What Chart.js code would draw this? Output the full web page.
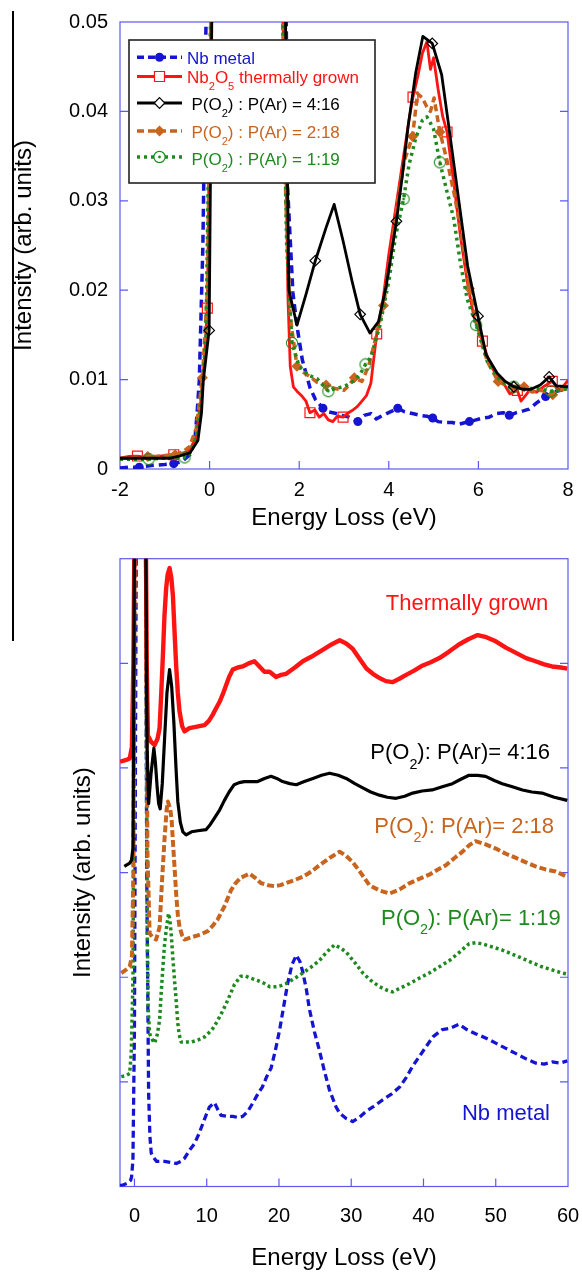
<!DOCTYPE html>
<html><head><meta charset="utf-8">
<script src="https://cdn.jsdelivr.net/npm/chart.js@4.4.1/dist/chart.umd.min.js"></script>
<style>
html,body{margin:0;padding:0;background:#fff;}
#wrap{position:relative;width:582px;height:1273px;overflow:hidden;background:#fff;}
#c1box{position:absolute;left:0;top:0;width:582px;height:540px;}
#c2box{position:absolute;left:0;top:540px;width:582px;height:733px;}
#vline{position:absolute;left:12px;top:11px;width:1.5px;height:630px;background:#000;}
</style></head><body>
<div id="wrap"><div id="c1box"><canvas id="c1"></canvas></div><div id="c2box"><canvas id="c2"></canvas></div><div id="vline"></div></div>
<script>
// ---------- DATA ----------
// Top panel: [energy loss eV, intensity]
const topBlue = [[-2,0.0001],[-1.8,0.0002],[-1.57,0.0002],[-1.3,0.0004],[-1.0,0.0005],[-0.8,0.0006],[-0.63,0.0008],[-0.44,0.0016],[-0.33,0.0032],[-0.28,0.0062],[-0.23,0.0099],[-0.15,0.025],[-0.08,0.05],[0.0,0.07],[1.68,0.07],[1.74,0.0316],[1.86,0.0197],[1.95,0.016],[2.07,0.0122],[2.24,0.0091],[2.36,0.0078],[2.53,0.0068],[2.65,0.0064],[2.83,0.0062],[2.95,0.006],[3.12,0.0058],[3.2,0.0056],[3.31,0.0053],[3.45,0.006],[3.6,0.0062],[3.72,0.0056],[3.79,0.0058],[3.95,0.0062],[4.08,0.0065],[4.2,0.0068],[4.35,0.0064],[4.53,0.0062],[4.7,0.006],[4.85,0.0059],[4.98,0.0057],[5.1,0.0053],[5.26,0.0052],[5.42,0.0052],[5.55,0.005],[5.8,0.0053],[5.95,0.0055],[6.09,0.0057],[6.24,0.0058],[6.4,0.0062],[6.55,0.0063],[6.69,0.006],[6.85,0.0063],[7.0,0.0065],[7.13,0.0067],[7.3,0.0074],[7.5,0.0081],[7.74,0.0087],[8.0,0.009]];
const topRed = [[-2,0.0012],[-1.8,0.0014],[-1.61,0.00145],[-1.4,0.0013],[-1.2,0.0014],[-1.0,0.0015],[-0.8,0.0016],[-0.6,0.0017],[-0.45,0.0021],[-0.3,0.0035],[-0.2,0.0075],[-0.12,0.012],[-0.05,0.018],[0.05,0.06],[1.6,0.06],[1.71,0.032],[1.75,0.019],[1.8,0.0115],[1.87,0.0092],[1.95,0.0087],[2.07,0.0081],[2.15,0.0076],[2.24,0.0063],[2.35,0.0066],[2.45,0.0058],[2.55,0.0062],[2.65,0.0055],[2.75,0.0053],[2.85,0.0059],[2.98,0.0058],[3.1,0.0063],[3.2,0.0066],[3.3,0.007],[3.4,0.0076],[3.5,0.0082],[3.6,0.0096],[3.73,0.0151],[3.86,0.0185],[4.0,0.024],[4.15,0.029],[4.3,0.034],[4.45,0.039],[4.54,0.0416],[4.65,0.044],[4.75,0.0465],[4.85,0.0478],[4.93,0.0447],[5.0,0.046],[5.1,0.0425],[5.2,0.0395],[5.3,0.0377],[5.45,0.032],[5.6,0.026],[5.75,0.021],[5.9,0.017],[6.09,0.0143],[6.25,0.0118],[6.4,0.0105],[6.55,0.0097],[6.7,0.0084],[6.87,0.0088],[6.95,0.0076],[7.05,0.0082],[7.15,0.0089],[7.3,0.0086],[7.45,0.0092],[7.65,0.0098],[7.8,0.0088],[7.9,0.0093],[8.0,0.0099]];
const topBlack = [[-2,0.0012],[-1.6,0.0012],[-1.2,0.0012],[-0.9,0.0012],[-0.7,0.0014],[-0.44,0.0018],[-0.26,0.0032],[-0.18,0.0063],[-0.14,0.0099],[-0.01,0.0155],[0.1,0.08],[1.62,0.08],[1.77,0.02],[1.95,0.0161],[2.15,0.0195],[2.36,0.0233],[2.6,0.027],[2.78,0.0296],[2.98,0.0255],[3.18,0.021],[3.36,0.0173],[3.58,0.0152],[3.77,0.0165],[3.94,0.0204],[4.17,0.0277],[4.3,0.0327],[4.43,0.0383],[4.6,0.0443],[4.76,0.0484],[4.97,0.0476],[5.18,0.0441],[5.34,0.0383],[5.55,0.0305],[5.76,0.0227],[5.99,0.0171],[6.17,0.0128],[6.42,0.0107],[6.6,0.0098],[6.79,0.0092],[7.0,0.0089],[7.16,0.0089],[7.38,0.0094],[7.58,0.0103],[7.74,0.0093],[8.0,0.0092]];
const topOrange = [[-2,0.0012],[-1.8,0.0012],[-1.6,0.0013],[-1.38,0.0014],[-1.2,0.0014],[-1.0,0.0015],[-0.77,0.0016],[-0.6,0.0019],[-0.45,0.0025],[-0.3,0.0045],[-0.16,0.0102],[-0.05,0.02],[0.05,0.06],[1.6,0.06],[1.7,0.03],[1.8,0.017],[1.95,0.0115],[2.1,0.0108],[2.25,0.0103],[2.4,0.0097],[2.6,0.0094],[2.8,0.009],[3.0,0.0088],[3.1,0.0093],[3.23,0.0102],[3.4,0.0098],[3.55,0.0115],[3.7,0.0145],[3.88,0.0183],[4.05,0.024],[4.2,0.03],[4.35,0.0345],[4.53,0.0372],[4.64,0.042],[4.75,0.0415],[4.85,0.0405],[4.93,0.04],[5.01,0.0415],[5.14,0.0377],[5.3,0.0345],[5.45,0.031],[5.6,0.027],[5.8,0.0202],[6.0,0.0155],[6.2,0.012],[6.44,0.0098],[6.6,0.0094],[6.8,0.009],[7.02,0.0092],[7.2,0.0086],[7.4,0.0088],[7.66,0.0083],[7.8,0.0088],[8.0,0.009]];
const topGreen = [[-2,0.0011],[-1.8,0.0011],[-1.6,0.0011],[-1.36,0.0011],[-1.1,0.0012],[-0.8,0.0013],[-0.56,0.0013],[-0.45,0.0017],[-0.3,0.0035],[-0.18,0.008],[-0.08,0.015],[0.05,0.06],[1.6,0.06],[1.72,0.025],[1.84,0.0141],[2.0,0.0115],[2.2,0.0105],[2.4,0.0101],[2.65,0.0087],[2.8,0.009],[3.0,0.0092],[3.2,0.0098],[3.35,0.0105],[3.48,0.0117],[3.6,0.0125],[3.8,0.016],[4.0,0.021],[4.15,0.026],[4.33,0.0302],[4.45,0.034],[4.6,0.037],[4.75,0.039],[4.85,0.0394],[4.93,0.0387],[5.0,0.038],[5.14,0.0343],[5.3,0.031],[5.45,0.028],[5.6,0.023],[5.75,0.019],[5.95,0.0161],[6.2,0.012],[6.5,0.0098],[6.79,0.0092],[7.0,0.009],[7.3,0.009],[7.62,0.0087],[7.8,0.0088],[8.0,0.009]];
// x positions carrying a symbol
const markBlue = [-1.57,-0.8,2.53,3.31,4.2,4.98,5.8,6.69,7.5];
const markRed = [-1.61,-0.8,-0.05,2.24,2.98,3.73,4.54,5.3,6.09,6.87,7.65];
const markBlack = [-0.01,2.36,3.36,4.17,4.97,5.99,6.79,7.58];
const markOrange = [-1.38,-0.77,-0.16,1.95,2.6,3.23,3.88,4.53,5.14,5.8,6.44,7.02,7.66];
const markGreen = [-1.36,-0.56,1.84,2.65,3.48,4.33,5.14,5.95,6.79,7.62];

// Bottom panel (offset spectra): [energy loss eV, intensity]
const botRed = [[-2,4.06],[-1.0,4.08],[-0.66,4.09],[-0.35,4.2],[-0.15,5.0],[0.1,7],[1.5,7],[1.7,5.0],[1.86,4.31],[2.3,4.25],[2.79,4.22],[3.2,4.28],[3.48,4.38],[3.7,4.7],[3.94,5.08],[4.15,5.45],[4.39,5.72],[4.6,5.85],[4.86,5.91],[5.1,5.82],[5.32,5.65],[5.55,5.3],[5.77,4.98],[6.0,4.72],[6.24,4.54],[6.6,4.4],[6.93,4.35],[7.6,4.38],[8.31,4.39],[9.0,4.4],[9.7,4.41],[10.3,4.45],[10.84,4.51],[11.3,4.57],[11.77,4.63],[12.2,4.7],[12.68,4.79],[13.1,4.87],[13.6,4.94],[14.3,4.96],[14.98,4.97],[15.8,5.0],[16.6,5.02],[17.3,4.97],[17.98,4.92],[18.7,4.92],[19.6,4.87],[20.3,4.89],[21.0,4.9],[22.2,4.96],[23.3,5.02],[24.4,5.06],[25.6,5.11],[27.0,5.17],[28.4,5.22],[29.3,5.19],[30.2,5.14],[31.2,5.04],[32.1,4.95],[33.0,4.9],[33.9,4.86],[34.8,4.83],[35.7,4.82],[36.6,4.85],[37.6,4.89],[38.7,4.93],[39.9,4.98],[41.0,5.01],[42.2,5.05],[43.5,5.11],[44.9,5.18],[46.2,5.23],[47.5,5.27],[48.7,5.25],[50.0,5.21],[51.4,5.15],[52.8,5.1],[54.2,5.05],[55.5,5.02],[56.7,4.99],[57.8,4.97],[59.0,4.96],[59.9,4.95]];
const botBlack = [[-1.4,3.06],[-0.66,3.09],[-0.4,3.12],[-0.2,3.24],[0.05,7],[1.5,7],[1.75,4.2],[1.96,3.66],[2.3,3.95],[2.69,4.19],[2.9,4.05],[3.15,3.81],[3.35,3.66],[3.56,3.61],[3.85,3.85],[4.17,4.28],[4.5,4.72],[4.86,4.94],[5.15,4.78],[5.45,4.44],[5.75,4.0],[6.0,3.68],[6.35,3.48],[6.7,3.39],[7.15,3.36],[7.9,3.39],[8.77,3.4],[9.9,3.41],[10.5,3.46],[11.07,3.52],[11.8,3.6],[12.45,3.69],[13.1,3.77],[13.8,3.84],[14.5,3.86],[15.2,3.87],[16.1,3.87],[17.05,3.87],[18.0,3.9],[18.9,3.92],[19.7,3.9],[20.5,3.87],[21.5,3.85],[22.4,3.84],[23.5,3.87],[24.7,3.9],[25.9,3.93],[27.0,3.95],[28.2,3.93],[29.3,3.9],[30.5,3.85],[31.6,3.81],[32.7,3.77],[33.9,3.74],[35.0,3.72],[36.2,3.71],[37.4,3.73],[38.5,3.76],[39.8,3.78],[41.2,3.79],[42.6,3.82],[44.0,3.85],[45.1,3.89],[46.3,3.93],[47.5,3.93],[48.6,3.92],[49.8,3.88],[50.9,3.85],[52.3,3.82],[53.7,3.79],[55.0,3.77],[56.4,3.76],[58.1,3.72],[59.9,3.69]];
const botOrange = [[-1.82,2.04],[-1.2,2.07],[-0.66,2.1],[-0.35,2.2],[-0.15,3.0],[0.1,7],[1.5,7],[1.8,3.2],[2.1,2.42],[2.5,2.38],[3.0,2.36],[3.48,2.48],[3.8,2.9],[4.17,3.33],[4.45,3.6],[4.63,3.68],[4.8,3.64],[4.95,3.61],[5.15,3.5],[5.32,3.3],[5.55,3.05],[5.77,2.8],[6.0,2.6],[6.24,2.48],[6.6,2.4],[6.93,2.36],[7.8,2.38],[8.77,2.4],[9.5,2.42],[10.15,2.44],[10.8,2.49],[11.5,2.55],[12.4,2.67],[13.35,2.83],[14.0,2.9],[14.7,2.95],[15.3,2.97],[15.9,2.99],[16.7,2.95],[17.5,2.9],[18.5,2.88],[19.4,2.87],[20.2,2.88],[21.0,2.9],[22.2,2.93],[23.3,2.96],[24.5,3.01],[25.6,3.07],[27.0,3.14],[28.4,3.2],[29.3,3.16],[30.2,3.1],[31.3,3.0],[32.5,2.88],[33.9,2.83],[35.3,2.8],[36.7,2.84],[38.1,2.9],[39.4,2.94],[40.8,2.98],[42.0,3.03],[43.1,3.07],[44.3,3.14],[45.4,3.2],[46.3,3.26],[47.2,3.3],[48.6,3.27],[50.0,3.23],[51.4,3.18],[52.8,3.14],[54.1,3.1],[55.5,3.06],[56.9,3.03],[58.3,3.01],[59.9,2.96]];
const botGreen = [[-1.82,1.05],[-1.2,1.06],[-0.66,1.08],[-0.44,1.28],[-0.2,2.0],[0.1,7],[1.5,7],[1.75,2.6],[1.9,1.7],[2.1,1.46],[2.5,1.4],[2.79,1.37],[3.15,1.45],[3.48,1.59],[3.7,1.85],[3.94,2.1],[4.15,2.3],[4.39,2.45],[4.72,2.61],[4.9,2.55],[5.08,2.42],[5.3,2.2],[5.55,1.97],[5.8,1.75],[6.0,1.56],[6.2,1.45],[6.47,1.38],[7.2,1.38],[7.85,1.38],[8.8,1.4],[9.7,1.43],[10.3,1.47],[10.84,1.51],[11.3,1.56],[11.77,1.62],[12.3,1.69],[12.9,1.78],[13.4,1.86],[13.84,1.93],[14.7,2.01],[15.4,2.01],[16.1,1.99],[17.0,1.97],[18.0,1.94],[18.7,1.91],[19.6,1.91],[20.3,1.92],[21.0,1.94],[22.2,1.99],[23.3,2.04],[24.5,2.1],[25.6,2.16],[26.6,2.24],[27.7,2.31],[28.5,2.28],[29.3,2.24],[30.5,2.14],[31.6,2.04],[32.7,1.97],[33.9,1.91],[34.8,1.88],[35.7,1.86],[36.9,1.9],[38.1,1.94],[39.4,1.99],[40.8,2.04],[42.2,2.1],[43.6,2.16],[45.0,2.24],[46.3,2.32],[47.2,2.33],[48.1,2.32],[49.5,2.29],[50.9,2.26],[52.3,2.22],[53.7,2.18],[55.0,2.14],[56.4,2.1],[57.8,2.07],[59.2,2.04],[59.9,2.03]];
const botBlue = [[-2,0.01],[-1.77,0.01],[-1.0,0.03],[-0.53,0.06],[-0.4,0.09],[-0.21,0.25],[0.0,1.5],[0.3,7],[1.5,7],[1.7,3.0],[1.96,0.89],[2.14,0.48],[2.32,0.32],[2.6,0.28],[3.07,0.24],[3.6,0.24],[4.17,0.24],[5.0,0.23],[5.8,0.22],[6.4,0.24],[6.93,0.27],[7.66,0.35],[8.31,0.41],[8.9,0.5],[9.46,0.6],[9.9,0.68],[10.38,0.76],[11.07,0.8],[11.5,0.74],[11.99,0.68],[12.8,0.67],[13.6,0.67],[14.3,0.66],[14.98,0.67],[15.7,0.72],[16.4,0.8],[17.2,0.9],[17.7,0.95],[18.3,1.05],[18.9,1.13],[19.5,1.3],[20.1,1.5],[20.6,1.7],[21.2,1.94],[21.8,2.12],[22.4,2.21],[22.9,2.15],[23.3,2.05],[23.8,1.88],[24.2,1.7],[24.9,1.48],[25.6,1.3],[26.3,1.1],[27.0,0.92],[27.9,0.76],[28.4,0.7],[29.3,0.65],[30.2,0.62],[31.1,0.66],[32.1,0.72],[33.0,0.76],[34.4,0.83],[35.5,0.88],[36.7,0.95],[37.6,1.04],[38.5,1.15],[39.5,1.25],[40.4,1.34],[41.3,1.43],[42.6,1.5],[43.6,1.51],[44.9,1.55],[46.0,1.5],[47.2,1.46],[48.6,1.42],[50.0,1.37],[51.4,1.32],[52.8,1.27],[54.2,1.22],[55.5,1.18],[56.7,1.17],[57.8,1.19],[58.9,1.18],[59.9,1.2]];

const topXTicks = [-2,0,2,4,6,8];
const topYTicks = [0,0.01,0.02,0.03,0.04,0.05];
const botXTicks = [0,10,20,30,40,50,60];
const botYTicks = [1,2,3,4,5];
const xTitle = 'Energy Loss (eV)';
const yTitle = 'Intensity (arb. units)';

// ---------- STYLE ----------
const C_BLUE='#1414d2', C_RED='#ff1414', C_BLACK='#000000', C_ORANGE='#c8641e', C_GREEN='#1e8a1e', C_FRAME='#5a5af2';
const FONT="'Liberation Sans', Arial, Helvetica, sans-serif";
const NONE='rgba(0,0,0,0)';

function pts(pairs){ return pairs.map(p=>({x:p[0], y:p[1]})); }
function radiusAt(pairs, marks, r){
  const s=new Set(); pairs.forEach((p,i)=>{ if(marks.includes(p[0])) s.add(i); });
  return ctx => s.has(ctx.dataIndex) ? r : 0;
}
function ringDot(color){
  const c=document.createElement('canvas'); c.width=14; c.height=14;
  const g=c.getContext('2d'); g.strokeStyle=color; g.lineWidth=1.1;
  g.beginPath(); g.arc(7,7,5.6,0,Math.PI*2); g.stroke();
  g.fillStyle=color; g.beginPath(); g.arc(7,7,1.4,0,Math.PI*2); g.fill();
  return c;
}
const greenRing = ringDot(C_GREEN);

function richWidth(ctx, parts, size){
  let w=0; for(const [t,sub] of parts){ ctx.font=(sub?size*0.65:size)+'px '+FONT; w+=ctx.measureText(t).width; } return w;
}
function drawRich(ctx, parts, x, y, size, color, align){
  const w=richWidth(ctx, parts, size);
  let cx = align==='right' ? x-w : x;
  ctx.fillStyle=color; ctx.textAlign='left'; ctx.textBaseline='alphabetic';
  for(const [t,sub] of parts){
    ctx.font=(sub?size*0.65:size)+'px '+FONT;
    ctx.fillText(t, cx, y + (sub ? size*0.42 : 0));
    cx += ctx.measureText(t).width;
  }
}
function drawMarker(ctx, kind, x, y, color){
  ctx.save(); ctx.setLineDash([]); ctx.lineWidth=1.2; ctx.strokeStyle=color; ctx.fillStyle=color;
  ctx.beginPath();
  if(kind==='circleFill'){ ctx.arc(x,y,4.5,0,Math.PI*2); ctx.fill(); }
  else if(kind==='square'){ ctx.fillStyle='#fff'; ctx.rect(x-5,y-5,10,10); ctx.fill(); ctx.stroke(); }
  else if(kind==='diamondOpen'){ ctx.fillStyle='#fff'; ctx.moveTo(x,y-5.3); ctx.lineTo(x+5.3,y); ctx.lineTo(x,y+5.3); ctx.lineTo(x-5.3,y); ctx.closePath(); ctx.fill(); ctx.stroke(); }
  else if(kind==='diamondFill'){ ctx.moveTo(x,y-5.5); ctx.lineTo(x+5.5,y); ctx.lineTo(x,y+5.5); ctx.lineTo(x-5.5,y); ctx.closePath(); ctx.fill(); }
  else if(kind==='ring'){ ctx.fillStyle='#fff'; ctx.arc(x,y,5.6,0,Math.PI*2); ctx.fill(); ctx.stroke(); ctx.beginPath(); ctx.fillStyle=color; ctx.arc(x,y,1.4,0,Math.PI*2); ctx.fill(); }
  ctx.restore();
}

const frameTicks = {
  id:'frameTicks',
  beforeDatasetsDraw(chart, args, o){
    const {ctx, chartArea:a, scales} = chart;
    ctx.save(); ctx.strokeStyle=C_FRAME; ctx.lineWidth=1.2; ctx.setLineDash([]);
    ctx.strokeRect(a.left, a.top, a.right-a.left, a.bottom-a.top);
    ctx.beginPath();
    for(const v of o.xTicks){ const px=scales.x.getPixelForValue(v); ctx.moveTo(px,a.bottom); ctx.lineTo(px,a.bottom-o.len); }
    for(const v of o.yTicks){ const py=scales.y.getPixelForValue(v); ctx.moveTo(a.left,py); ctx.lineTo(a.left+o.len,py); ctx.moveTo(a.right,py); ctx.lineTo(a.right-o.len,py); }
    ctx.stroke(); ctx.restore();
  }
};

const boxLegend = {
  id:'boxLegend',
  afterDraw(chart, args, o){
    if(!o.rows) return;
    const ctx=chart.ctx; ctx.save();
    ctx.fillStyle='#fff'; ctx.fillRect(o.box[0],o.box[1],o.box[2],o.box[3]);
    ctx.strokeStyle='#222'; ctx.lineWidth=1.6; ctx.strokeRect(o.box[0],o.box[1],o.box[2],o.box[3]);
    for(const r of o.rows){
      ctx.save(); ctx.strokeStyle=r.color; ctx.lineWidth=r.width; ctx.setLineDash(r.dash); ctx.lineCap='butt';
      ctx.beginPath(); ctx.moveTo(o.lineX0, r.ly); ctx.lineTo(o.lineX1, r.ly); ctx.stroke(); ctx.restore();
      drawMarker(ctx, r.marker, (o.lineX0+o.lineX1)/2, r.ly, r.color);
      drawRich(ctx, r.parts, r.tx, r.by, o.size, r.color, 'left');
    }
    ctx.restore();
  }
};

const labelsPlugin = {
  id:'curveLabels',
  afterDraw(chart, args, o){
    if(!o.items) return;
    const ctx=chart.ctx; ctx.save();
    for(const it of o.items){
      drawRich(ctx, it.parts, chart.scales.x.getPixelForValue(it.x), chart.scales.y.getPixelForValue(it.y), o.size, it.color, 'right');
    }
    ctx.restore();
  }
};

Chart.register(frameTicks, boxLegend, labelsPlugin);

function lineDs(pairs, color, width, dash, extra){
  return Object.assign({
    data: pts(pairs), borderColor: color, backgroundColor: color, borderWidth: width,
    borderDash: dash, tension: 0, fill: false, pointRadius: 0, pointHoverRadius: 0,
    clip: 0, borderCapStyle: 'butt', borderJoinStyle: 'round'
  }, extra||{});
}

const titleFont = {family:FONT, size:24};
const tickFont = {family:FONT, size:20};

// ---------- TOP CHART ----------
new Chart(document.getElementById('c1'), {
  type:'line',
  data:{ datasets:[
    lineDs(topBlack, C_BLACK, 2.8, [], {pointRadius: radiusAt(topBlack, markBlack, 5.3), pointStyle:'rectRot', pointBackgroundColor:NONE, pointBorderColor:C_BLACK, pointBorderWidth:1.2}),
    lineDs(topGreen, C_GREEN, 3.5, [3,4], {pointRadius: radiusAt(topGreen, markGreen, 6), pointStyle: greenRing}),
    lineDs(topOrange, C_ORANGE, 3.5, [7,4], {pointRadius: radiusAt(topOrange, markOrange, 5.5), pointStyle:'rectRot', pointBackgroundColor:C_ORANGE, pointBorderColor:C_ORANGE, pointBorderWidth:0}),
    lineDs(topRed, C_RED, 2.8, [], {pointRadius: radiusAt(topRed, markRed, 7), pointStyle:'rect', pointBackgroundColor:NONE, pointBorderColor:C_RED, pointBorderWidth:1.2}),
    lineDs(topBlue, C_BLUE, 3.5, [8,5], {pointRadius: radiusAt(topBlue, markBlue, 4.5), pointStyle:'circle', pointBackgroundColor:C_BLUE, pointBorderColor:C_BLUE, pointBorderWidth:0})
  ]},
  options:{
    responsive:true, maintainAspectRatio:false, animation:false, events:[],
    layout:{ padding:{left:0, right:14, top:22, bottom:7.6} },
    plugins:{
      legend:{display:false}, tooltip:{enabled:false},
      frameTicks:{ xTicks:[0,2,4,6], yTicks:[0.01,0.02,0.03,0.04], len:8 },
      boxLegend:{
        box:[129,40,246,143], lineX0:137, lineX1:182, size:17,
        rows:[
          {color:C_BLUE, width:3.5, dash:[7,4], marker:'circleFill', ly:57.3, by:64, tx:187, parts:[['Nb metal',0]]},
          {color:C_RED, width:2.8, dash:[], marker:'square', ly:76.5, by:82.7, tx:187, parts:[['Nb',0],['2',1],['O',0],['5',1],[' thermally grown',0]]},
          {color:C_BLACK, width:2.8, dash:[], marker:'diamondOpen', ly:103, by:110, tx:191.5, parts:[['P(O',0],['2',1],[') : P(Ar) = 4:16',0]]},
          {color:C_ORANGE, width:3.5, dash:[7,4], marker:'diamondFill', ly:131, by:137.5, tx:191.5, parts:[['P(O',0],['2',1],[') : P(Ar) = 2:18',0]]},
          {color:C_GREEN, width:3.5, dash:[3,4], marker:'ring', ly:157, by:164.5, tx:191.5, parts:[['P(O',0],['2',1],[') : P(Ar) = 1:19',0]]}
        ]
      },
      curveLabels:{}
    },
    scales:{
      x:{ type:'linear', min:-2, max:8,
          afterBuildTicks: s => { s.ticks = topXTicks.map(v=>({value:v})); },
          ticks:{ color:'#000', font:tickFont, padding:0, maxRotation:0, autoSkip:false },
          grid:{ display:false, drawTicks:true, tickLength:9 }, border:{ display:false },
          title:{ display:true, text:xTitle, color:'#000', font:titleFont, padding:{top:0,bottom:0} },
          afterFit: s => { s.height = 63.4; } },
      y:{ type:'linear', min:0, max:0.05,
          afterBuildTicks: s => { s.ticks = topYTicks.map(v=>({value:v})); },
          ticks:{ color:'#000', font:tickFont, padding:0, callback: v => String(+v.toFixed(2)) },
          grid:{ display:false, drawTicks:true, tickLength:12 }, border:{ display:false },
          title:{ display:true, text:yTitle, color:'#000', font:titleFont, padding:{top:9.6,bottom:0} },
          afterFit: s => { s.width = 120; } }
    }
  }
});

// ---------- BOTTOM CHART ----------
new Chart(document.getElementById('c2'), {
  type:'line',
  data:{ datasets:[
    lineDs(botBlack, C_BLACK, 3.2, []),
    lineDs(botRed, C_RED, 4.4, []),
    lineDs(botOrange, C_ORANGE, 4, [7,3]),
    lineDs(botGreen, C_GREEN, 3.5, [3,3]),
    lineDs(botBlue, C_BLUE, 3.3, [7,4])
  ]},
  options:{
    responsive:true, maintainAspectRatio:false, animation:false, events:[],
    layout:{ padding:{left:0, right:14, top:18.7, bottom:0} },
    plugins:{
      legend:{display:false}, tooltip:{enabled:false},
      frameTicks:{ xTicks:[0,10,20,30,40,50], yTicks:botYTicks, len:8 },
      boxLegend:{},
      curveLabels:{ size:22, items:[
        {parts:[['Thermally grown',0]], color:C_RED, x:57.28, y:5.51},
        {parts:[['P(O',0],['2',1],['): P(Ar)= 4:16',0]], color:C_BLACK, x:57.51, y:4.083},
        {parts:[['P(O',0],['2',1],['): P(Ar)= 2:18',0]], color:C_ORANGE, x:58.06, y:3.376},
        {parts:[['P(O',0],['2',1],['): P(Ar)= 1:19',0]], color:C_GREEN, x:58.99, y:2.499},
        {parts:[['Nb metal',0]], color:C_BLUE, x:57.51, y:0.636}
      ]}
    },
    scales:{
      x:{ type:'linear', min:-2, max:60,
          afterBuildTicks: s => { s.ticks = botXTicks.map(v=>({value:v})); },
          ticks:{ color:'#000', font:tickFont, padding:0, maxRotation:0, autoSkip:false },
          grid:{ display:false, drawTicks:true, tickLength:18 }, border:{ display:false },
          title:{ display:true, text:xTitle, color:'#000', font:titleFont, padding:{top:0,bottom:0} },
          afterFit: s => { s.height = 86.5; } },
      y:{ type:'linear', min:0, max:6,
          ticks:{ display:false },
          grid:{ display:false, drawTicks:false }, border:{ display:false },
          title:{ display:true, text:yTitle, color:'#000', font:titleFont, padding:{top:69.2,bottom:0} },
          afterFit: s => { s.width = 120; } }
    }
  }
});
</script>
</body></html>
